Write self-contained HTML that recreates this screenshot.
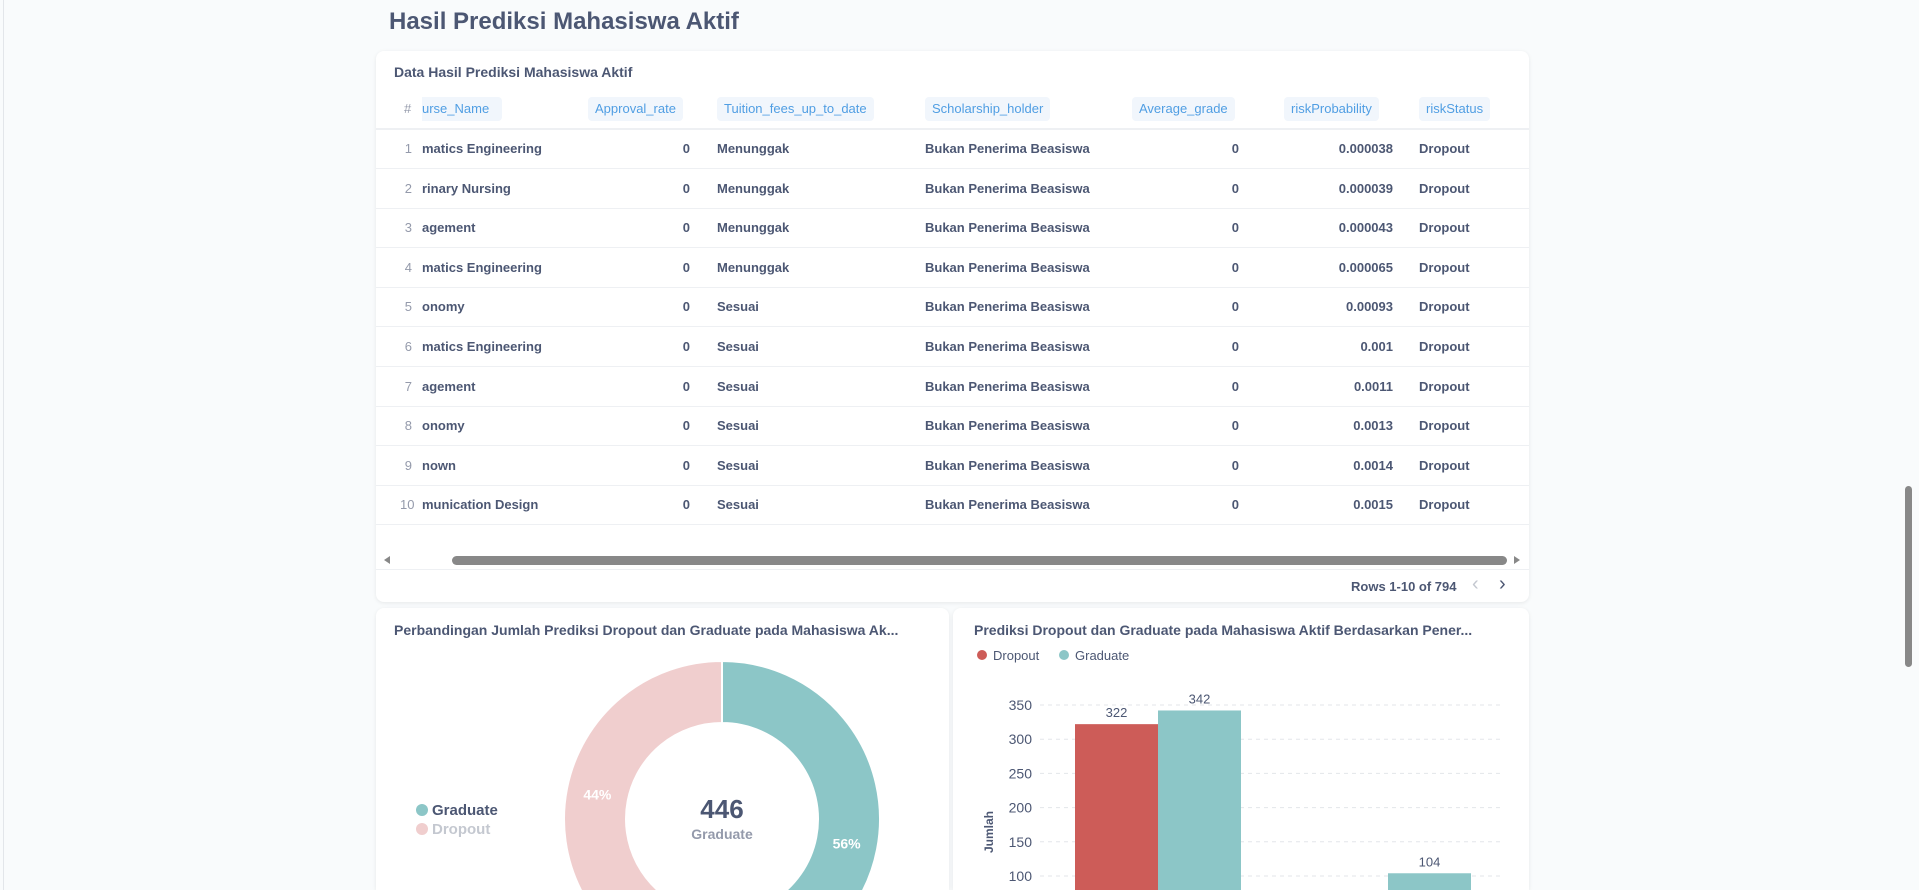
<!DOCTYPE html>
<html><head><meta charset="utf-8">
<style>
*{box-sizing:border-box;margin:0;padding:0}
html,body{width:1919px;height:890px;overflow:hidden}
body{background:#F9FBFC;font-family:"Liberation Sans",sans-serif;color:#4C5773;position:relative}
.abs{position:absolute}
.card{position:absolute;background:#fff;border-radius:8px;box-shadow:0 1px 4px rgba(0,0,0,0.08);overflow:hidden}
.hdr{position:absolute;top:46px;height:24px;line-height:24px;background:#F1F6FC;color:#509EE3;font-size:13px;border-radius:4px;padding:0 7px;white-space:nowrap}
.row{position:absolute;left:0;width:1153px;height:40px;border-bottom:1px solid #EEF0F3;font-size:13px;font-weight:bold}
.row span{position:absolute;top:12px;white-space:nowrap}
</style></head><body>
<div class="abs" style="left:3px;top:0;width:1px;height:890px;background:#E3E6EA"></div>
<div class="abs" style="left:389px;top:8px;font-size:24px;font-weight:bold">Hasil Prediksi Mahasiswa Aktif</div>

<div class="card" style="left:376px;top:51px;width:1153px;height:551px">
  <div class="abs" style="left:18px;top:13px;font-size:14px;font-weight:bold">Data Hasil Prediksi Mahasiswa Aktif</div>
  <div class="abs" style="left:28px;top:50px;font-size:13px;color:#949AAB">#</div>
  <div class="hdr" style="left:46px;width:80px;border-radius:0 4px 4px 0;padding-left:0">urse_Name</div>
  <div class="hdr" style="left:212px">Approval_rate</div>
  <div class="hdr" style="left:341px">Tuition_fees_up_to_date</div>
  <div class="hdr" style="left:549px">Scholarship_holder</div>
  <div class="hdr" style="left:756px">Average_grade</div>
  <div class="hdr" style="left:908px">riskProbability</div>
  <div class="hdr" style="left:1043px">riskStatus</div>
  <div class="abs" style="left:0;top:77px;width:1153px;height:2px;background:#EEF0F3"></div>
  <div id="rows"></div>
  <div class="abs" style="left:8px;top:505px;width:0;height:0;border-top:4px solid transparent;border-bottom:4px solid transparent;border-right:6px solid #888"></div>
  <div class="abs" style="left:76px;top:505px;width:1055px;height:9px;border-radius:5px;background:#888"></div>
  <div class="abs" style="left:1138px;top:505px;width:0;height:0;border-top:4px solid transparent;border-bottom:4px solid transparent;border-left:6px solid #888"></div>
  <div class="abs" style="left:0;top:518px;width:1153px;height:1px;background:#EEF0F3"></div>
  <div class="abs" style="left:975px;top:528px;font-size:13px;font-weight:bold">Rows 1-10 of 794</div>
  <div class="abs" style="left:1096px;top:522px;font-size:20px;color:#C4C8D0">&#x2039;</div>
  <div class="abs" style="left:1123px;top:522px;font-size:20px;color:#4C5773">&#x203A;</div>
</div>

<div class="card" style="left:376px;top:608px;width:573px;height:282px;border-radius:8px 8px 0 0">
  <div class="abs" style="left:18px;top:14px;font-size:14px;font-weight:bold">Perbandingan Jumlah Prediksi Dropout dan Graduate pada Mahasiswa Ak...</div>
</div>
<div class="card" style="left:953px;top:608px;width:576px;height:282px;border-radius:8px 8px 0 0">
  <div class="abs" style="left:21px;top:14px;font-size:14px;font-weight:bold">Prediksi Dropout dan Graduate pada Mahasiswa Aktif Berdasarkan Pener...</div>
</div>

<svg class="abs" style="left:0;top:0" width="1919" height="890" id="charts"></svg>

<div class="abs" style="left:1905px;top:486px;width:7px;height:181px;border-radius:4px;background:#888"></div>

<script>
const rowCourse=["matics Engineering","rinary Nursing","agement","matics Engineering","onomy","matics Engineering","agement","onomy","nown","munication Design"];
const rowApproval=[0,0,0,0,0,0,0,0,0,0];
const rowTuition=["Menunggak","Menunggak","Menunggak","Menunggak","Sesuai","Sesuai","Sesuai","Sesuai","Sesuai","Sesuai"];
const rowScholar=["Bukan Penerima Beasiswa","Bukan Penerima Beasiswa","Bukan Penerima Beasiswa","Bukan Penerima Beasiswa","Bukan Penerima Beasiswa","Bukan Penerima Beasiswa","Bukan Penerima Beasiswa","Bukan Penerima Beasiswa","Bukan Penerima Beasiswa","Bukan Penerima Beasiswa"];
const rowGrade=[0,0,0,0,0,0,0,0,0,0];
const rowProb=["0.000038","0.000039","0.000043","0.000065","0.00093","0.001","0.0011","0.0013","0.0014","0.0015"];
const rowStatus=["Dropout","Dropout","Dropout","Dropout","Dropout","Dropout","Dropout","Dropout","Dropout","Dropout"];

const donutLabels=["Graduate","Dropout"];
const donutValues=[446,348];

const barCategories=["Bukan Penerima Beasiswa","Penerima Beasiswa"];
const dropoutValues=[322,26];
const graduateValues=[342,104];
const yTicks=[100,150,200,250,300,350];

const rowsEl=document.getElementById('rows');
for(let i=0;i<rowCourse.length;i++){
  const r=document.createElement('div');
  r.className='row';
  r.style.top=(78+i*39.6)+'px';
  
  
  r.innerHTML=
   `<span style="left:24px;width:12px;text-align:right;font-weight:normal;color:#949AAB">${i+1}</span>`+
   `<span style="left:46px">${rowCourse[i]}</span>`+
   `<span style="right:839px">${rowApproval[i]}</span>`+
   `<span style="left:341px">${rowTuition[i]}</span>`+
   `<span style="left:549px">${rowScholar[i]}</span>`+
   `<span style="right:290px">${rowGrade[i]}</span>`+
   `<span style="right:136px">${rowProb[i]}</span>`+
   `<span style="left:1043px">${rowStatus[i]}</span>`;
  rowsEl.appendChild(r);
}

const NS='http://www.w3.org/2000/svg';
const svg=document.getElementById('charts');
function mk(tag,attrs,txt){const e=document.createElementNS(NS,tag);for(const k in attrs)e.setAttribute(k,attrs[k]);if(txt!==undefined)e.textContent=txt;svg.appendChild(e);return e;}

// donut
const cx=722,cy=819,R=158,r=96;
const total=donutValues.reduce((a,b)=>a+b,0);
const dColors=["#8CC6C7","#F0CECE"];
let a0=0;
donutValues.forEach((v,i)=>{
  const a1=a0+v/total*Math.PI*2;
  const p=(a,rad)=>[cx+rad*Math.sin(a),cy-rad*Math.cos(a)];
  const [x0,y0]=p(a0,R),[x1,y1]=p(a1,R),[x2,y2]=p(a1,r),[x3,y3]=p(a0,r);
  const lg=(a1-a0)>Math.PI?1:0;
  const s=mk('path',{d:`M${x0},${y0}A${R},${R} 0 ${lg} 1 ${x1},${y1}L${x2},${y2}A${r},${r} 0 ${lg} 0 ${x3},${y3}Z`,fill:dColors[i],stroke:'#fff','stroke-width':2});
  
  
  const am=(a0+a1)/2,[lx,ly]=p(am,(R+r)/2);
  const t=mk('text',{x:lx,y:ly+5,'text-anchor':'middle','font-size':14,'font-weight':'bold',fill:'#fff'},Math.round(v/total*100)+'%');
  
  
  a0=a1;
});
let t=mk('text',{x:cx,y:818,'text-anchor':'middle','font-size':26,'font-weight':'bold',fill:'#4C5773'},donutValues[0]);


t=mk('text',{x:cx,y:839,'text-anchor':'middle','font-size':14,'font-weight':'bold',fill:'#949AAB'},donutLabels[0]);


donutLabels.forEach((l,i)=>{
  const y=810+i*19;
  let c=mk('circle',{cx:422,cy:y,r:6,fill:dColors[i]});
  
  
  let tx=mk('text',{x:432,y:y+5,'font-size':15,'font-weight':'bold',fill:i?'#C4C8D0':'#4C5773'},l);
  
  
});

// bar chart
const y=v=>705+(350-v)*0.684;
const groupX=[1075,1305], bw=83;
yTicks.forEach(v=>{
  let g=mk('line',{x1:1040,x2:1500,y1:y(v),y2:y(v),stroke:'#E3E6EA','stroke-dasharray':'4,4'});
  
  
  let tl=mk('text',{x:1032,y:y(v)+5,'text-anchor':'end','font-size':14,fill:'#4C5773'},v);
  
  
});
t=mk('text',{x:993,y:832,'text-anchor':'middle','font-size':12,'font-weight':'bold',fill:'#4C5773',transform:'rotate(-90 993 832)'},'Jumlah');


const series=[[dropoutValues,'#CD5C58','dropout'],[graduateValues,'#8CC6C7','graduate']];
barCategories.forEach((c,ci)=>{
  series.forEach(([vals,col,nm],si)=>{
    const x=groupX[ci]+si*bw, v=vals[ci];
    let b=mk('rect',{x:x,y:y(v),width:bw,height:Math.max(0,890-y(v)),fill:col});
    
    
    if(y(v)<885){
      let l=mk('text',{x:x+bw/2,y:y(v)-7,'text-anchor':'middle','font-size':13,fill:'#4C5773'},v);
      
      
    }
  });
});
[['Dropout','#CD5C58',982],['Graduate','#8CC6C7',1064]].forEach(([l,col,x])=>{
  let c=mk('circle',{cx:x,cy:655,r:5,fill:col});
  
  
  let tx=mk('text',{x:x+11,y:660,'font-size':13,fill:'#4C5773'},l);
  
  
});
</script>
</body></html>
